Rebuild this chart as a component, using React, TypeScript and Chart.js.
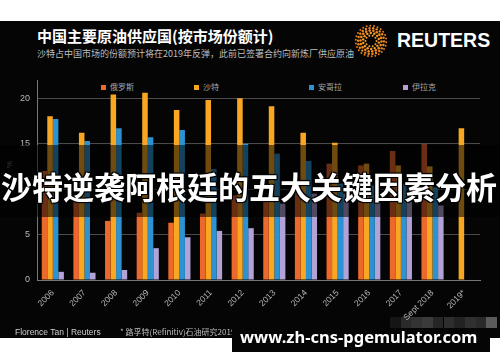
import React, { useEffect, useRef } from 'react';
import { Chart, registerables } from 'chart.js';

Chart.register(...registerables);

const categories = ['2006', '2007', '2008', '2009', '2010', '2011', '2012', '2013', '2014', '2015', '2016', '2017', 'Sept 2018', '2019*'];
const russia = [12.0, 9.0, 6.5, 7.4, 6.3, 7.3, 9.3, 8.7, 10.0, 12.8, 12.6, 14.2, 14.9, null];
const saudi = [18.0, 16.2, 20.4, 20.6, 18.7, 19.8, 20.0, 19.1, 16.2, 15.1, 12.8, 12.6, 12.5, 16.7];
const angola = [17.7, 15.3, 16.7, 15.7, 16.5, 12.2, 15.0, 13.9, 13.1, 10.6, 10.4, 10.6, 10.2, null];
const iraq = [0.9, 0.8, 1.1, 3.5, 4.7, 5.4, 5.7, 8.4, 9.5, 9.5, 9.8, 9.5, 8.2, null];
const yTicks = [0, 5, 10, 15, 20];
const seriesNames = ['俄罗斯', '沙特', '安哥拉', '伊拉克'];
const seriesColors = ['#ec692b', '#f9a723', '#2b93d3', '#b2a2d6'];
const legendX = [101, 194, 309, 403];

const titleText = '中国主要原油供应国(按市场份额计)';
const subtitleText = '沙特占中国市场的份额预计将在2019年反弹，此前已签署合约向新炼厂供应原油';
const overlayText = '沙特逆袭阿根廷的五大关键因素分析';
const creditText = 'Florence Tan | Reuters';
const sourceText = '* 路孚特(Refinitiv)石油研究2019年预测';
const watermarkText = 'www.zh-cns-pgemulator.com';

const CJK = '"Noto Sans CJK SC", "Noto Sans", sans-serif';

function ReutersLogo() {
  const rings = [
    { r: 5.5, n: 10, s: 1.0 },
    { r: 8, n: 14, s: 1.2 },
    { r: 10.5, n: 18, s: 1.3 },
    { r: 13, n: 22, s: 1.2 },
    { r: 15.3, n: 26, s: 1.0 },
  ];
  const dots: any[] = [];
  rings.forEach((ring, i) => {
    for (let k = 0; k < ring.n; k++) {
      const a = (k / ring.n) * Math.PI * 2 + i * 0.2;
      dots.push(
        <circle key={i + '-' + k} cx={17 + ring.r * Math.cos(a)} cy={17 + ring.r * Math.sin(a)} r={ring.s}
          fill={i < 2 ? '#f7a030' : i < 4 ? '#f08a1e' : '#e07a18'} />
      );
    }
  });
  return (
    <svg width={34} height={34} style={{ position: 'absolute', left: 354, top: 24 }}>
      {dots}
    </svg>
  );
}

export default function App() {
  const canvasRef = useRef<HTMLCanvasElement | null>(null);

  useEffect(() => {
    const series = [russia, saudi, angola, iraq];
    const chart = new Chart(canvasRef.current as HTMLCanvasElement, {
      type: 'bar',
      data: {
        labels: categories,
        datasets: series.map((d, i) => ({
          label: seriesNames[i],
          data: d,
          backgroundColor: seriesColors[i],
          borderWidth: 0,
          categoryPercentage: 0.7,
          barPercentage: 1.0,
        })),
      },
      options: {
        animation: false,
        responsive: false,
        maintainAspectRatio: false,
        layout: { padding: { top: 80, right: 20, bottom: 0, left: 0 } },
        plugins: { legend: { display: false }, tooltip: { enabled: false } },
        scales: {
          x: {
            grid: { display: false },
            border: { display: true, color: '#777' },
            ticks: {
              color: '#b8b8b8',
              font: { size: 8.5, family: '"Liberation Sans", Arial, sans-serif' },
              maxRotation: 45,
              minRotation: 45,
              autoSkip: false,
              padding: 0,
            },
            afterFit: (s: any) => { s.height = 82; },
          },
          y: {
            min: 0,
            max: 22,
            afterBuildTicks: (s: any) => { s.ticks = yTicks.map((v) => ({ value: v })); },
            grid: { color: '#4a4a4a', drawTicks: false },
            border: { display: true, color: '#777' },
            ticks: {
              color: '#b8b8b8',
              font: { size: 9, family: '"Liberation Sans", Arial, sans-serif' },
              padding: 7,
            },
            afterFit: (s: any) => { s.width = 37; },
          },
        },
      },
    } as any);
    return () => chart.destroy();
  }, []);

  const mosaic = ['#151515', '#2a2a2a', '#333', '#3a3a3a', '#262626', '#2e2e2e', '#222', '#303030', '#2a2a2a', '#5a5a5a'];

  return (
    <div style={{ position: 'absolute', left: 0, top: 0, width: 500, height: 362, background: '#fff', overflow: 'hidden' }}>
      <div style={{ position: 'absolute', left: 0, top: 21, width: 500, height: 317, background: '#050505' }} />
      <div style={{ position: 'absolute', left: 232, top: 320, width: 258, height: 32, background: '#050505' }} />
      {mosaic.map((c, i) => (
        <div key={i} style={{ position: 'absolute', left: 390 + i * 10.7, top: 317, width: 10.7, height: 11, background: c }} />
      ))}
      <div style={{ position: 'absolute', left: 37, top: 28, color: '#fff', font: `bold 15px ${CJK}`, lineHeight: '15px', whiteSpace: 'nowrap' }}>{titleText}</div>
      <div style={{ position: 'absolute', left: 37, top: 49, color: '#bdbdbd', font: `9px ${CJK}`, lineHeight: '10px', whiteSpace: 'nowrap' }}>{subtitleText}</div>
      <ReutersLogo />
      <div style={{ position: 'absolute', left: 397, top: 29, color: '#fff', font: 'bold 19.5px "Liberation Sans", Arial, sans-serif', lineHeight: '22px', whiteSpace: 'nowrap' }}>REUTERS</div>
      {seriesNames.map((n, i) => (
        <div key={n} style={{ position: 'absolute', left: legendX[i], top: 82, height: 10, display: 'flex', alignItems: 'center', whiteSpace: 'nowrap' }}>
          <span style={{ display: 'inline-block', width: 5, height: 5, background: seriesColors[i], marginRight: 4 }} />
          <span style={{ color: '#a8a8a8', font: `8px ${CJK}`, lineHeight: '10px' }}>{n}</span>
        </div>
      ))}
      <canvas ref={canvasRef} width={500} height={362} style={{ position: 'absolute', left: 0, top: 0, width: 500, height: 362 }} />
      <div style={{ position: 'absolute', left: 6, top: 160, color: '#777', font: '8px "Liberation Sans", Arial, sans-serif', transform: 'rotate(-90deg)' }}>%</div>
      <div style={{ position: 'absolute', left: 0, top: 145, width: 500, height: 72, background: 'rgba(0,0,0,0.55)' }} />
      <div style={{
        position: 'absolute', left: 1, top: 168, color: '#fff', font: `bold 31px ${CJK}`, lineHeight: '36px', whiteSpace: 'nowrap',
        textShadow: '1px 1px 0 #000, -1px -1px 0 #000, 1px -1px 0 #000, -1px 1px 0 #000, 0 0 3px #000',
      }}>{overlayText}</div>
      <div style={{ position: 'absolute', left: 15, top: 327, color: '#cfcfcf', font: '8.5px "Liberation Sans", Arial, sans-serif', lineHeight: '10px', whiteSpace: 'nowrap' }}>{creditText}</div>
      <div style={{ position: 'absolute', left: 120, top: 327, width: 112, overflow: 'hidden', color: '#bdbdbd', font: `8px ${CJK}`, lineHeight: '10px', whiteSpace: 'nowrap' }}>{sourceText}</div>
      <div style={{ position: 'absolute', left: 240, top: 327, color: '#fff', font: 'bold 16.5px "Noto Sans", "Open Sans", sans-serif', lineHeight: '20px', whiteSpace: 'nowrap' }}>{watermarkText}</div>
    </div>
  );
}
